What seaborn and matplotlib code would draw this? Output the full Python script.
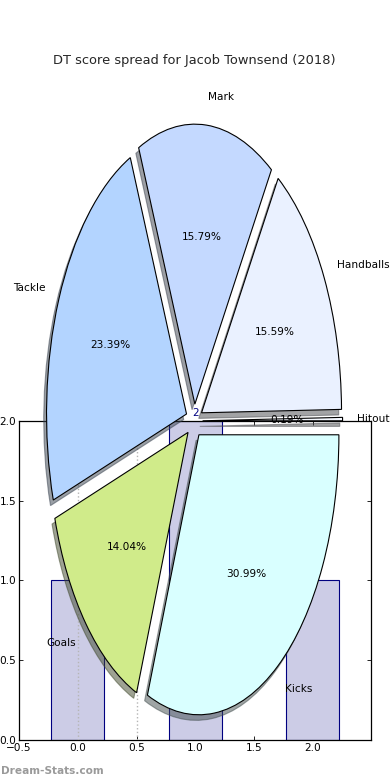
import matplotlib
matplotlib.use("Agg")
import matplotlib.pyplot as plt
import seaborn as sns

# ---- data ----
title = "DT score spread for Jacob Townsend (2018)"
categories = ["Hitout", "Handballs", "Mark", "Tackle", "Goals", "Kicks"]
scores = [1, 80, 81, 120, 72, 159]
slice_colors = ["#f4f8ff", "#eaf1ff", "#c4d9ff", "#b3d4ff", "#d0eb8a", "#d9ffff"]
bar_x = [0, 1, 2]
bar_heights = [1, 2, 1]
xticks = [-0.5, 0.0, 0.5, 1.0, 1.5, 2.0]
yticks = [0.0, 0.5, 1.0, 1.5, 2.0]
guide_x = [0.0, 0.5]
watermark = "Dream-Stats.com"

# ---- style ----
sns.set_style("ticks")
plt.rcParams.update({
    "font.family": ["DejaVu Sans"],
    "font.size": 7.6,
    "xtick.direction": "in",
    "ytick.direction": "in",
    "xtick.top": True,
    "ytick.right": True,
    "xtick.major.size": 3,
    "ytick.major.size": 3,
    "xtick.major.width": 0.6,
    "ytick.major.width": 0.6,
    "xtick.major.pad": 2,
    "ytick.major.pad": 2,
    "xtick.labelsize": 7.6,
    "ytick.labelsize": 7.6,
    "axes.linewidth": 0.9,
    "axes.edgecolor": "black",
    "xtick.color": "black",
    "ytick.color": "black",
})

fig = plt.figure(figsize=(3.9, 7.8), dpi=100)
fig.patch.set_facecolor("white")

# ---- bar axes (underneath) ----
ax_bar = fig.add_axes([0.049, 0.0513, 0.903, 0.409])
sns.barplot(x=bar_x, y=bar_heights, native_scale=True, width=0.45,
            color="#ccccE6", saturation=1, edgecolor="navy", linewidth=0.8,
            errorbar=None, ax=ax_bar)
ax_bar.bar_label(ax_bar.containers[0], labels=[str(h) for h in bar_heights],
                 color="navy", padding=2, fontsize=7.6)
for gx in guide_x:
    ax_bar.axvline(gx, color="#b5b5b5", linestyle=":", linewidth=1.0, zorder=3)
ax_bar.set_xlim(-0.5, 2.5)
ax_bar.set_ylim(0, 2)
ax_bar.set_xticks(xticks)
ax_bar.set_xticklabels([f"{v:.1f}".replace("-", "\u2212") for v in xticks])
ax_bar.set_yticks(yticks)
ax_bar.set_yticklabels([f"{v:.1f}" for v in yticks])
ax_bar.set_xlabel("")
ax_bar.set_ylabel("")
for s in ax_bar.spines.values():
    s.set_visible(True)

# ---- pie axes (on top, transparent) ----
ax_pie = fig.add_axes([0.0492, 0.0117, 0.8974, 0.8974])
ax_pie.patch.set_visible(False)
sh = 0.02 * 72 / fig.dpi
ax_pie.pie(scores, labels=categories, colors=slice_colors,
           explode=[0.06] * len(scores), autopct="%1.2f%%",
           shadow={"ox": -sh, "oy": -sh}, startangle=0,
           labeldistance=1.1, pctdistance=0.6,
           wedgeprops=dict(edgecolor="black", linewidth=0.8),
           textprops=dict(fontsize=7.6, color="black"))
ax_pie.set_aspect("auto")
ax_pie.set_xlim(-1.25, 1.25)
ax_pie.set_ylim(-1.25, 1.25)
ax_pie.axis("off")
ax_pie.set_title(title, fontsize=9.4, pad=5)

fig.text(0.002, 0.0075, watermark, color="#9a9a9a", fontsize=7.6,
         fontweight="bold", ha="left", va="baseline")

fig.savefig("out.png", dpi=100, facecolor="white")
